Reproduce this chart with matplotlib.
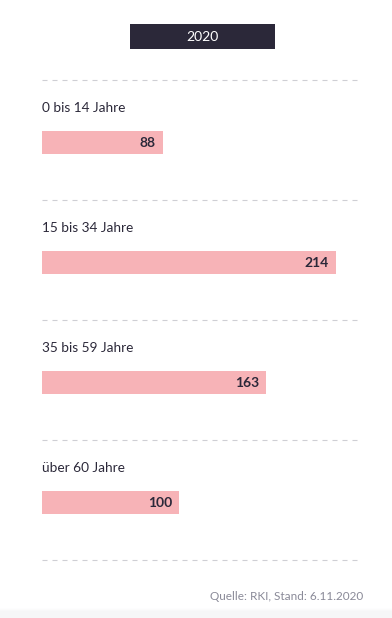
import matplotlib
matplotlib.use("Agg")
import matplotlib.pyplot as plt
from matplotlib.patches import Rectangle

categories = ["0 bis 14 Jahre", "15 bis 34 Jahre", "35 bis 59 Jahre", "über 60 Jahre"]
values = [88, 214, 163, 100]
year_label = "2020"
source = "Quelle: RKI, Stand: 6.11.2020"

W, H = 392, 618
fig = plt.figure(figsize=(W / 100, H / 100), dpi=100)
fig.patch.set_facecolor("white")
ax = fig.add_axes([0, 0, 1, 1])
scale = 1.374  # px per unit
x0 = 42
ax.set_xlim(-x0 / scale, (W - x0) / scale)
ax.set_ylim(H, 0)
ax.axis("off")

font = "Lato"
dark = "#2b2839"
pink = "#f7b3b7"

def px(xp):
    return (xp - x0) / scale

# header box
ax.add_patch(Rectangle((px(130), 24), px(275) - px(130), 25, facecolor=dark, edgecolor="none"))
ax.text(px(202.5), 37, year_label, color="white", fontsize=10, family=font,
        ha="center", va="center")

# dashed separators
for i in range(len(categories) + 1):
    y = 80 + i * 120
    ax.plot([px(42), px(357)], [y, y], color="#cfcfd4", lw=0.8, ls=(0, (4.5, 4.5)))

# bars and labels
centers = [142.5 + i * 120 for i in range(len(categories))]
ax.barh(centers, values, height=23, left=0, color=pink, edgecolor="none")
for i, (c, v, cat) in enumerate(zip(centers, values, categories)):
    ax.text(0, c - 34, cat, fontsize=9.8, family=font, color=dark, ha="left", va="center")
    ax.text(v - 7 / scale, c + 0.5, str(v), fontsize=10, family=font, weight="bold",
            color=dark, ha="right", va="center")

# footer band (light gradient)
for k in range(10):
    shade = 1 - 0.035 * min(k + 1, 4) / 4
    ax.add_patch(Rectangle((px(0), 608 + k), px(W) - px(0), 1,
                           facecolor=(shade, shade, shade + 0.003 if shade < 1 else 1), edgecolor="none"))
ax.text(px(363), 597, source, fontsize=8.5, family=font, color="#8a8a98", ha="right", va="center")

fig.savefig("out.png", dpi=100, facecolor="white")
